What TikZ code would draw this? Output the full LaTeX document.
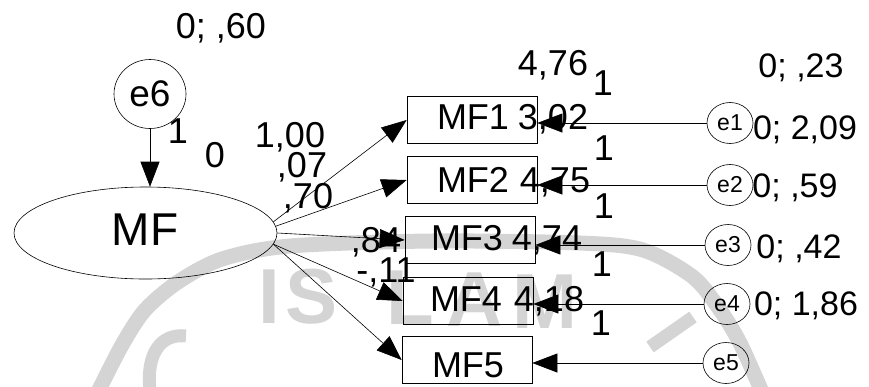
\documentclass[tikz,border=0pt]{standalone}
\usepackage{fontspec}
\setmainfont{Liberation Sans}
\usetikzlibrary{arrows.meta,shapes.geometric}
\begin{document}
\begin{tikzpicture}[x=1pt,y=-1pt,
  lbl/.style={font=\fontsize{36}{36}\selectfont, anchor=base, inner sep=0pt},
  rlbl/.style={font=\fontsize{34}{34}\selectfont, anchor=base, inner sep=0pt},
  obs/.style={draw, line width=0.7pt, minimum width=130pt, minimum height=47pt, inner sep=0pt},
  err/.style={draw, ellipse, line width=0.6pt, minimum width=46pt, minimum height=41pt, inner sep=0pt, font=\fontsize{23}{23}\selectfont},
  arr/.style={line width=0.6pt, -{Triangle[length=25pt,width=19pt]}},
  wm/.style={black!17, line width=15pt},
  wmtext/.style={text=black!17, font=\fontsize{78}{78}\selectfont\bfseries, anchor=base, inner sep=0pt}]
\useasboundingbox (0,0) rectangle (869,386);
% watermark
\draw[wm] plot[smooth] coordinates {(98,392) (122,345) (145,310) (178,282) (222,259) (290,246) (432,241) (580,243) (643,250) (693,277) (720,310) (740,343) (762,392)};
\draw[wm, line width=13pt] (650,347) -- (693,317);
\draw[wm, line width=13pt] (150,390) .. controls (146,355) and (160,333) .. (186,336);
\node[wmtext] (wI) at (269,323) {I};
\node[wmtext] (wS) at (312,323) {S};
\node[wmtext] (wL) at (410,324) {L};
\node[wmtext] (wA) at (475,326) {A};
\node[wmtext] (wM) at (545,328) {M};
% latent
\node[draw, ellipse, line width=0.6pt, minimum width=72pt, minimum height=69pt, inner sep=0pt, font=\fontsize{37}{37}\selectfont] (e6) at (150,94) {e6};
\node[draw, ellipse, line width=0.6pt, minimum width=263pt, minimum height=92pt, inner sep=0pt] (MF) at (145.5,233) {};
\node[font=\fontsize{46}{46}\selectfont, anchor=base, inner sep=0pt] (MFt) at (145,245) {MF};
% observed
\node[obs] (MF1) at (472,120) {};
\node[obs] (MF2) at (472,180) {};
\node[obs] (MF3) at (470,240) {};
\node[obs] (MF4) at (468,301) {};
\node[obs] (MF5) at (467,360) {};
% errors
\node[err] (e1) at (730,123) {e1};
\node[err] (e2) at (730,185) {e2};
\node[err] (e3) at (728,245) {e3};
\node[err] (e4) at (727,304) {e4};
\node[err] (e5) at (726,363) {e5};
% labels
\node[lbl] (t060) at (221,38) {0; ,60};
\node[lbl] (t1a) at (178,143) {1};
\node[lbl] (t0) at (215,167) {0};
\node[lbl] (t100) at (290,147) {1,00};
\node[lbl] (t07) at (302,177) {,07};
\node[lbl] (t70) at (308,208) {,70};
\node[lbl] (t84) at (376,252) {,84};
\node[lbl] (t11) at (386,282) {-,11};
\node[lbl] (t476) at (553,75) {4,76};
\node[lbl] (t1b) at (603,95) {1};
\node[rlbl] (t023) at (801,77) {0; ,23};
\node[lbl] (n1) at (473,129) {MF1};
\node[lbl] (i1) at (553,129) {3,02};
\node[lbl] (t1c) at (604,160) {1};
\node[rlbl] (v1) at (805,139) {0; 2,09};
\node[lbl] (n2) at (473,192) {MF2};
\node[lbl] (i2) at (555,192) {4,75};
\node[lbl] (t1d) at (604,218) {1};
\node[rlbl] (v2) at (795,197) {0; ,59};
\node[lbl] (n3) at (467,250) {MF3};
\node[lbl] (i3) at (547,250) {4,74};
\node[lbl] (t1e) at (602,276) {1};
\node[rlbl] (v3) at (799,258) {0; ,42};
\node[lbl] (n4) at (466,311) {MF4};
\node[lbl] (i4) at (549,311) {4,18};
\node[lbl] (t1f) at (601,335) {1};
\node[rlbl] (v4) at (806,315) {0; 1,86};
\node[lbl] (n5) at (468,377) {MF5};
% connectors
\draw[arr] (e6.south) -- (e6.south |- MF.north);
\draw[arr] (MF.5) -- (MF1.west);
\draw[arr] (MF.3) -- (MF2.west);
\draw[arr] (MF.0) -- (MF3.west);
\draw[arr] (MF.-5) -- (MF4.west);
\draw[arr] (MF.-5) -- (MF5.west);
\draw[arr] (e1.west) -- (e1.west -| MF1.east);
\draw[arr] (e2.west) -- (e2.west -| MF2.east);
\draw[arr] (e3.west) -- (e3.west -| MF3.east);
\draw[arr] (e4.west) -- (e4.west -| MF4.east);
\draw[arr] (e5.west) -- (e5.west -| MF5.east);
\end{tikzpicture}
\end{document}
